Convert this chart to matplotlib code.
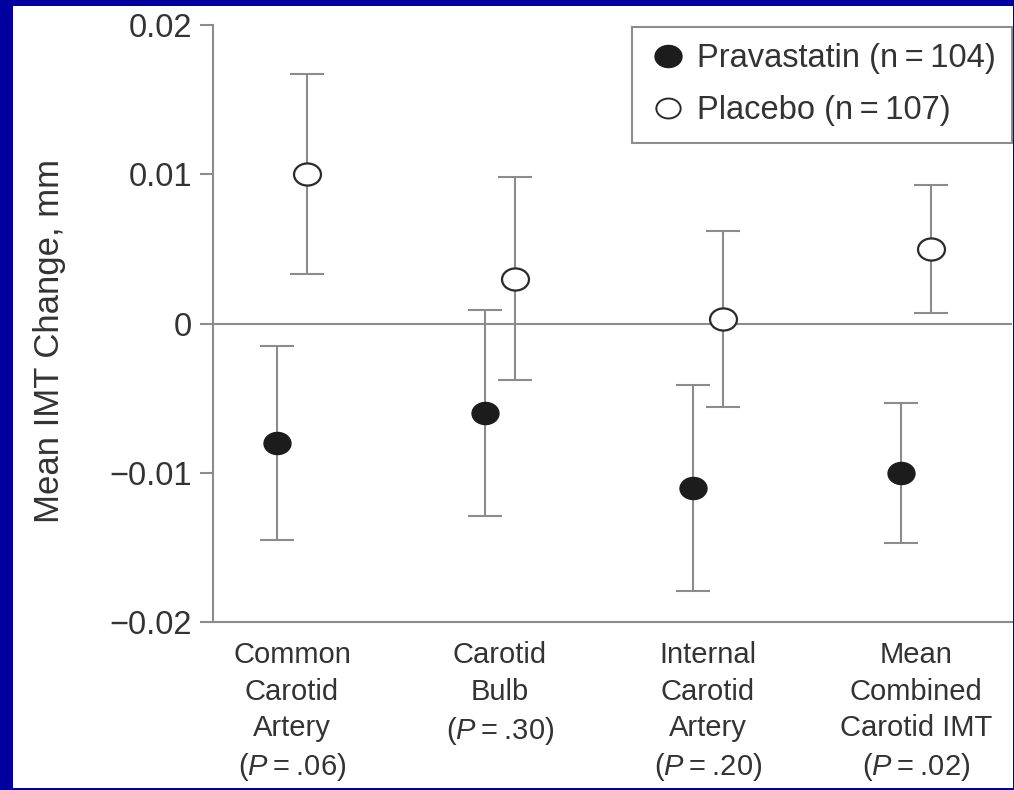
import numpy as np
import matplotlib
matplotlib.use("Agg")
import matplotlib.pyplot as plt
from matplotlib.path import Path
from matplotlib.transforms import Affine2D
from matplotlib.patches import Rectangle
from matplotlib.lines import Line2D

plt.rcParams['font.family'] = ['Liberation Sans', 'DejaVu Sans']
plt.rcParams['mathtext.fontset'] = 'custom'
plt.rcParams['mathtext.rm'] = 'Liberation Sans'
plt.rcParams['mathtext.it'] = 'Liberation Sans:italic'

# ---- data ----
categories = [
    "Common\nCarotid\nArtery\n($P$\u2009=\u2009.06)",
    "Carotid\nBulb\n($P$\u2009=\u2009.30)",
    "Internal\nCarotid\nArtery\n($P$\u2009=\u2009.20)",
    "Mean\nCombined\nCarotid IMT\n($P$\u2009=\u2009.02)",
]
prava_mean = [-0.008, -0.006, -0.011, -0.010]
prava_err = [0.0065, 0.0069, 0.0069, 0.0047]
placebo_mean = [0.010, 0.003, 0.0003, 0.005]
placebo_err = [0.0067, 0.0068, 0.0059, 0.0043]
series_labels = ["Pravastatin (n\u2009=\u2009104)", "Placebo (n\u2009=\u2009107)"]
yticks = [-0.02, -0.01, 0.0, 0.01, 0.02]
ytick_labels = ["\u22120.02", "\u22120.01", "0", "0.01", "0.02"]
ylabel = "Mean IMT Change, mm"

# ---- style ----
W, H = 1014, 790
fig = plt.figure(figsize=(W / 100, H / 100), dpi=100, facecolor='#0000A0')
bg = Rectangle((13 / W, 2 / H), (1013 - 13) / W, (788 - 6) / H,
               transform=fig.transFigure, facecolor='white',
               edgecolor='none', zorder=-10)
fig.patches.append(bg)

ax_l, ax_r, ax_t, ax_b = 213, 1012, 25, 622
ax = fig.add_axes([ax_l / W, 1 - ax_b / H, (ax_r - ax_l) / W, (ax_b - ax_t) / H])
ax.set_zorder(1)
ax.set_facecolor('none')

gray = '#8c8c8c'
txt = '#333333'

# elliptical marker (reference is horizontally stretched)
circ = Path.unit_circle()
ell = Affine2D().scale(1.0, 0.82).transform_path(circ)

x = np.arange(len(categories))
off = 0.072

ax.axhline(0, color=gray, lw=1.5, zorder=1)

ax.errorbar(x - off, prava_mean, yerr=prava_err, fmt='none', ecolor=gray,
            elinewidth=1.5, capsize=12.2, capthick=1.5, zorder=2)
ax.errorbar(x + off, placebo_mean, yerr=placebo_err, fmt='none', ecolor=gray,
            elinewidth=1.5, capsize=12.2, capthick=1.5, zorder=2)
ax.plot(x - off, prava_mean, ls='none', marker=ell, ms=19.4,
        mfc='#1c1c1c', mec='#1c1c1c', mew=1.0, zorder=3)
ax.plot(x + off, placebo_mean, ls='none', marker=ell, ms=19.4,
        mfc='white', mec='#2a2a2a', mew=1.6, zorder=3)

ax.set_xlim((-79) / 208, (ax_r - 292) / 208)
ax.set_ylim(-0.02, 0.02)

for s in ['top', 'right']:
    ax.spines[s].set_visible(False)
for s in ['left', 'bottom']:
    ax.spines[s].set_color(gray)
    ax.spines[s].set_linewidth(1.5)

ax.set_yticks(yticks)
ax.set_yticklabels(ytick_labels)
ax.tick_params(axis='y', direction='out', length=9.4, width=1.5, color=gray,
               labelsize=23.5, labelcolor=txt, pad=5.5)
ax.set_xticks(x)
ax.set_xticklabels(categories)
ax.tick_params(axis='x', length=0, labelsize=21, labelcolor=txt, pad=14)
for t in ax.get_xticklabels():
    t.set_linespacing(1.38)

ax.set_ylabel(ylabel, fontsize=25, color=txt)
ax.yaxis.set_label_coords(-0.184, 0.47)

handles = [
    Line2D([], [], ls='none', marker=ell, ms=19.4, mfc='#1c1c1c', mec='#1c1c1c', mew=1.0),
    Line2D([], [], ls='none', marker=ell, ms=17.5, mfc='white', mec='#2a2a2a', mew=1.4),
]
leg = ax.legend(handles, series_labels, loc='upper right',
                bbox_to_anchor=(1012 / W, 1 - 27 / H), bbox_transform=fig.transFigure,
                borderaxespad=0, fontsize=23.5, frameon=True, fancybox=False,
                framealpha=1, edgecolor='#8c8c8c', handlelength=1.19,
                handletextpad=0.3, borderpad=0.5, labelspacing=0.64)
leg.get_frame().set_linewidth(1.5)
for t in leg.get_texts():
    t.set_color(txt)

fig.savefig('out.png', dpi=100, facecolor=fig.get_facecolor())
